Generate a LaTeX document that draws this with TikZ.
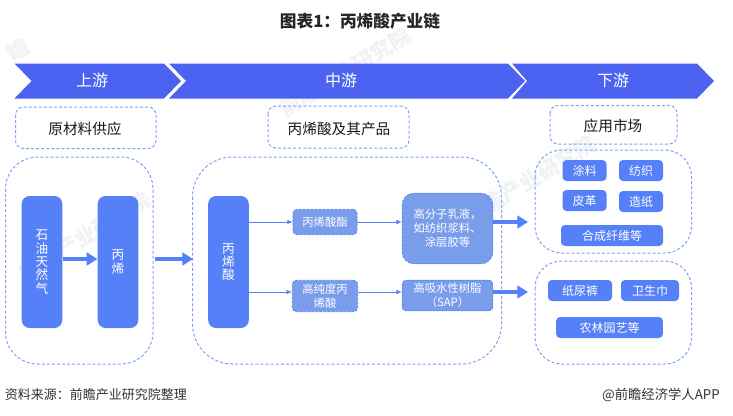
\documentclass[tikz,border=0pt]{standalone}
\usepackage{fontspec}
\setmainfont{Noto Sans CJK SC}
\usepackage{xcolor}
\usetikzlibrary{arrows.meta,positioning}
\definecolor{bandblue}{RGB}{75,99,240}
\definecolor{barblue}{RGB}{86,128,248}
\definecolor{midblue}{RGB}{122,157,235}
\definecolor{dashblue}{RGB}{126,160,245}
\definecolor{markgray}{RGB}{240,242,246}

\begin{document}
\begin{tikzpicture}[x=0.75pt, y=-0.75pt, node distance={57pt},
    band/.style = {fill=bandblue, draw=none},
    bandtext/.style = {text=white, font=\fontsize{12}{14}\selectfont},
    frame/.style = {draw=dashblue, line width=0.75pt, dash pattern=on 2.2pt off 1.6pt, rounded corners=#1},
    head/.style = {font=\fontsize{11}{13}\selectfont, text=black!90},
    bar/.style = {fill=barblue, rounded corners=6pt, minimum width=30.5pt, minimum height=99pt, inner sep=0pt, text=white, align=center, font=\fontsize{9.5}{10}\selectfont},
    mid/.style = {fill=midblue, draw=barblue, dash pattern=on 2pt off 1pt, line width=0.6pt, rounded corners=3pt, inner sep=0pt, text=white, align=center, font=\fontsize{8.5}{10.5}\selectfont},
    chip/.style = {fill=barblue, rounded corners=3pt, inner sep=0pt, minimum height=15.75pt, text=white, align=center, font=\fontsize{9}{10}\selectfont},
    slim/.style = {draw=barblue, line width=0.7pt, -{Latex[length=4pt,width=3.5pt]}},
    fat/.style = {draw=barblue, line width=2.6pt, -{Triangle[length=8pt,width=9.5pt]}},
    stamp/.style = {text=markgray, rotate=31, inner sep=0pt, font=\bfseries\fontsize{16}{18}\selectfont}
  ]
    \useasboundingbox (0,0) rectangle (733,415);
    \fill[white] (0,0) rectangle (733,415);

    % watermark
    \node[stamp](m1) at (85,236){前瞻产业研究院};
    \node[stamp](m2) at (345,72){前瞻产业研究院};
    \node[stamp](m3) at (530,180){前瞻产业研究院};
    \node[stamp](m4) at (18,50){瞻};

    \node[font=\bfseries\fontsize{12.5}{14}\selectfont, text=black!85](title) at (360,21){图表1：丙烯酸产业链};

    % top band
    \fill[band] (14.5,63.5) -- (164,63.5) -- (181,81) -- (164,98.5) -- (14.5,98.5) -- (31.5,81) -- cycle;
    \fill[band] (169,63.5) -- (508,63.5) -- (525,81) -- (508,98.5) -- (169,98.5) -- (186,81) -- cycle;
    \fill[band] (512,63.5) -- (697,63.5) -- (714,81) -- (697,98.5) -- (512,98.5) -- (527,81) -- cycle;
    \node[bandtext](up) at (92,80.5){上游};
    \node[bandtext](center) at (341,80.5){中游};
    \node[bandtext](down) at (613,80.5){下游};

    % heads
    \draw[frame=6pt] (15.5,107) rectangle (156,148.5);
    \draw[frame=6pt] (268,106) rectangle (409,148);
    \draw[frame=6pt] (550,105.5) rectangle (677,144);
    \node[head](h1) at (85,129){原材料供应};
    \node[head](h2) at (339,128.5){丙烯酸及其产品};
    \node[head](h3) at (613,125.5){应用市场};

    % big frames
    \draw[frame=24pt] (5.5,157) rectangle (153,364);
    \draw[frame=30pt] (192.5,157) rectangle (501.5,364);
    \draw[frame=20pt] (535,150) rectangle (691.5,253);
    \draw[frame=20pt] (535,261) rectangle (691.5,364);

    % upstream and middle
    \node[bar](oil) at (42,262){石\\油\\天\\然\\气};
    \node[bar](propene)[right of=oil]{丙\\烯};
    \node[bar](acid) at (228.5,262){丙\\烯\\酸};

    \node[mid, minimum width=48pt, minimum height=19pt](ester) at (325,222){丙烯酸酯};
    \node[mid, minimum width=49pt, minimum height=23.5pt](pure) at (325,296){高纯度丙\\烯酸};
    \node[mid, minimum width=68pt, minimum height=53pt, rounded corners=9pt](latex) at (447.5,228.5){高分子乳液，\\如纺织浆料、\\涂层胶等};
    \node[mid, minimum width=68pt, minimum height=23pt](sap) at (447.5,295.5){高吸水性树脂\\（SAP）};

    % downstream
    \node[chip, minimum width=33pt](coat) at (584.5,170.5){涂料};
    \node[chip, minimum width=33pt](textile) at (641,170.5){纺织};
    \node[chip, minimum width=33pt](leather) at (584.5,200.5){皮革};
    \node[chip, minimum width=33pt](paper) at (641,201.5){造纸};
    \node[chip, minimum width=76.5pt](fiber) at (612,235.5){合成纤维等};
    \node[chip, minimum width=48pt](diaper) at (580,290.5){纸尿裤};
    \node[chip, minimum width=43.5pt](towel) at (650,290.5){卫生巾};
    \node[chip, minimum width=80pt](farm) at (609.5,327.5){农林园艺等};

    \coordinate(a1) at (155,259);
    \coordinate(a2) at (193,259);
    \coordinate(a3) at (528,222);
    \coordinate(a4) at (528,292);
    \coordinate(b1) at (249,222);
    \coordinate(b2) at (249,292);

    \path
    (oil.east |- a1) edge[fat] (propene.west |- a1)
    (a1) edge[fat] (a2)
    (latex.east |- a3) edge[fat] (a3)
    (sap.east |- a4) edge[fat] (a4)
    (b1) edge[slim] (ester)
    (b2) edge[slim] (pure.west |- b2)
    (ester) edge[slim] (latex.west |- ester)
    (pure.east |- b2) edge[slim] (sap.west |- b2)
    ;

    \node[font=\fontsize{9.75}{11}\selectfont, text=black!80](source) at (96,395){资料来源：前瞻产业研究院整理};
    \node[font=\fontsize{10}{11}\selectfont, text=black!80](brand) at (661,395){@前瞻经济学人APP};
  \end{tikzpicture}
\end{document}
